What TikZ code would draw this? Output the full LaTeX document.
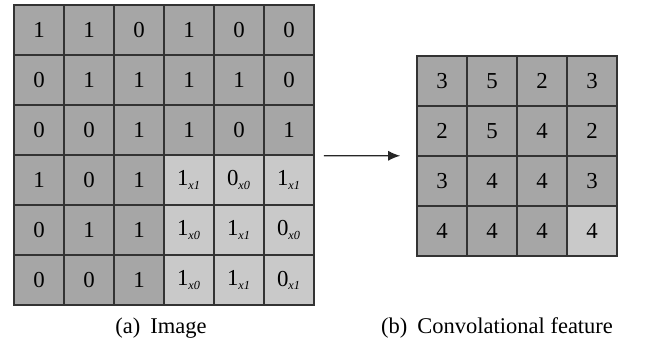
\documentclass[tikz,border=0pt]{standalone}
\usepackage{fontspec}
\setmainfont{Liberation Serif}
\usetikzlibrary{positioning,arrows.meta}
\definecolor{cellgray}{RGB}{166,166,166}
\definecolor{wingray}{RGB}{201,201,201}
\newcommand{\wsub}[1]{\textsubscript{\fontsize{7}{8}\selectfont\itshape x#1}}

\begin{document}
\begin{tikzpicture}[
    cell/.style={draw=black!80, line width=0.9pt, minimum size=1cm, inner sep=0pt,
                 font=\fontsize{13}{15}\selectfont},
    caption/.style={font=\fontsize{12.8}{15}\selectfont}]
\useasboundingbox (0,0) rectangle (13.08,6.98);
% image, window in the lower right corner
\foreach \row/\vals in {1/{1,1,0,1,0,0},2/{0,1,1,1,1,0},3/{0,0,1,1,0,1},
        4/{1,0,1,1\wsub{1},0\wsub{0},1\wsub{1}},
        5/{0,1,1,1\wsub{0},1\wsub{1},0\wsub{0}},
        6/{0,0,1,1\wsub{0},1\wsub{1},0\wsub{1}}}
    \foreach \v [count=\col] in \vals {
        \pgfmathtruncatemacro\inwin{and(\row>3,\col>3)}
        \ifnum\inwin=1 \def\cellfill{wingray}\else\def\cellfill{cellgray}\fi
        \node[cell, fill=\cellfill] (img-\row-\col) at (\col-0.22,7.38-\row) {\v};
    }
% convolved feature
\foreach \row/\vals in {1/{3,5,2,3},2/{2,5,4,2},3/{3,4,4,3},4/{4,4,4,4}}
    \foreach \v [count=\col] in \vals {
        \pgfmathtruncatemacro\inwin{and(\row>3,\col>3)}
        \ifnum\inwin=1 \def\cellfill{wingray}\else\def\cellfill{cellgray}\fi
        \node[cell, fill=\cellfill] (feat-\row-\col) at (\col+7.84,6.36-\row) {\v};
    }
\coordinate (arr-in) at ([xshift=0.18cm]img-3-6.south east);
\coordinate (arr-out) at ([xshift=-0.32cm,yshift=0.02cm]feat-2-1.south west);
\draw[-{Latex[length=2.4mm,width=2mm]}, line width=0.7pt, black!85] (arr-in) -- (arr-out);
\node[caption] (cap-a) at (3.22,0.42) {(a)\hspace{0.45em}Image};
\node[caption] (cap-b) at (9.94,0.42) {(b)\hspace{0.45em}Convolational feature};
\end{tikzpicture}
\end{document}
